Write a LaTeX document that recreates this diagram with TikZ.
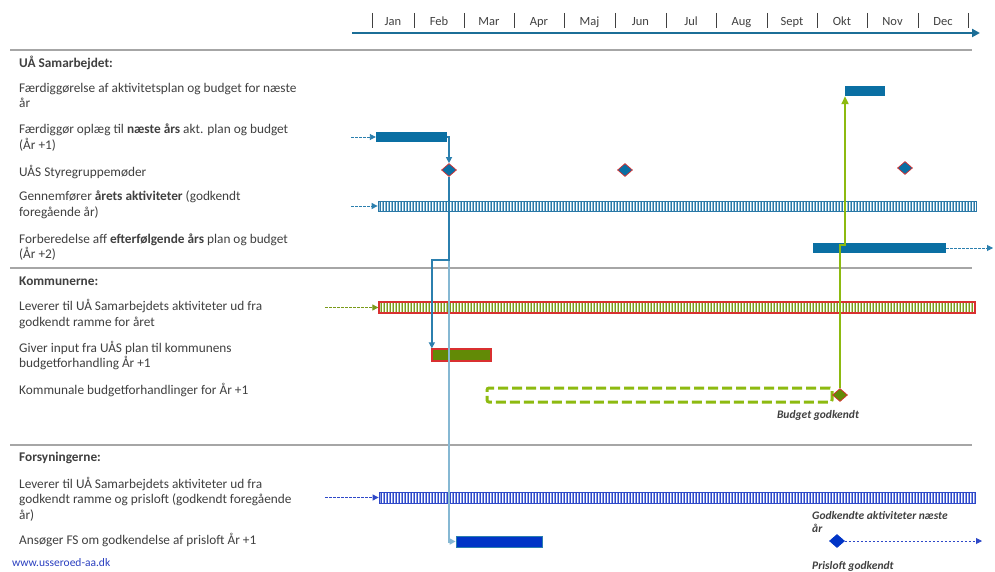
\documentclass[tikz,border=0pt]{standalone}
\usepackage{fontspec}
\setmainfont{Carlito}
\usetikzlibrary{arrows.meta,shapes.geometric}
\definecolor{txt}{HTML}{404040}
\definecolor{uab}{HTML}{0A6FA3}
\definecolor{axisc}{HTML}{1B6E97}
\definecolor{grayl}{HTML}{A6A6A6}
\definecolor{lgreen}{HTML}{8DBA10}
\definecolor{olive}{HTML}{628A06}
\definecolor{roy}{HTML}{0034C6}
\definecolor{conn}{HTML}{2B7FAE}
\definecolor{conl}{HTML}{86B8D3}
\definecolor{hbl}{HTML}{8CBCD8}
\definecolor{hbd}{HTML}{2A78A6}
\definecolor{hgl}{HTML}{BDD291}
\definecolor{hgd}{HTML}{7A9A1A}
\definecolor{hrl}{HTML}{8C9EE8}
\definecolor{hrd}{HTML}{2E48C8}
\definecolor{redb}{HTML}{D93030}
\definecolor{linkc}{HTML}{2A3FC0}
\tikzset{
  lbl/.style={anchor=base west, align=left, inner sep=0pt, text=txt, font=\fontsize{13.3}{15.5}\selectfont},
  head/.style={lbl, font=\fontsize{13.3}{15.5}\selectfont\bfseries},
  note/.style={anchor=base west, align=left, inner sep=0pt, text=txt, font=\fontsize{11.5}{12.7}\selectfont\bfseries\itshape},
  month/.style={text=txt, font=\fontsize{12.5}{14}\selectfont, inner sep=0pt, anchor=base},
  tickl/.style={draw=txt, line width=0.8pt},
  sep/.style={draw=grayl, line width=2pt},
  bar/.style={rectangle, inner sep=0pt, minimum height=10pt},
  hatch/.style n args={3}{fill=#1, path picture={
     \foreach \k in {0,3,...,600}{
       \draw[#2, line width=1pt] ([xshift={(\k+0.6)*1pt}]path picture bounding box.north west) -- ([xshift={(\k+0.6)*1pt}]path picture bounding box.south west);
       \draw[#3, line width=0.4pt] ([xshift={(\k+2)*1pt}]path picture bounding box.north west) -- ([xshift={(\k+2)*1pt}]path picture bounding box.south west);
     }}},
  dia/.style={diamond, inner sep=0pt, minimum width=15pt, minimum height=13pt, draw=redb, line width=0.7pt},
  tip/.style={-{Triangle[length=6pt,width=6pt]}},
  darr/.style={dash pattern=on 2.5pt off 1.5pt, line width=0.9pt, tip},
  kbox/.style={rectangle, inner sep=0pt, draw=lgreen, line width=3pt, dash pattern=on 10pt off 4pt, rounded corners=2pt},
}
\begin{document}
\begin{tikzpicture}[x=1pt,y=-1pt]
\fill[white] (0,0) rectangle (995,572);
\useasboundingbox (0,0) rectangle (995,572);

% timeline header
\foreach \x in {372,414,464,514,564,615,666,716,767,817,867,918,968}
  \draw[tickl] (\x,13) -- (\x,28);
\node[month] (m1) at (393,26) {Jan};
\node[month] (m2) at (439,26) {Feb};
\node[month] (m3) at (489,26) {Mar};
\node[month] (m4) at (539,26) {Apr};
\node[month] (m5) at (589.5,26) {Maj};
\node[month] (m6) at (640.5,26) {Jun};
\node[month] (m7) at (691,26) {Jul};
\node[month] (m8) at (741.5,26) {Aug};
\node[month] (m9) at (792,26) {Sept};
\node[month] (m10) at (842,26) {Okt};
\node[month] (m11) at (892.5,26) {Nov};
\node[month] (m12) at (943,26) {Dec};
\coordinate (ax1) at (352,33);
\coordinate (ax2) at (980,33);
\draw[axisc, line width=2.6pt, -{Triangle[length=8pt,width=8pt]}] (ax1) -- (ax2);

% separators
\draw[sep] (10,50) -- (972,50);
\draw[sep] (10,268) -- (972,268);
\draw[sep] (10,445) -- (972,445);

% labels (base anchor = baseline of the last line)
\node[head] (h1) at (19,67.5) {UÅ Samarbejdet:};
\node[lbl] (t1) at (19,108) {Færdiggørelse af aktivitetsplan og budget for næste\\år};
\node[lbl] (t2) at (19,149.5) {Færdiggør oplæg til \textbf{næste års} akt. plan og budget\\(År +1)};
\node[lbl] (t3) at (19,176.5) {UÅS Styregruppemøder};
\node[lbl] (t4) at (19,216) {Gennemfører \textbf{årets aktiviteter} (godkendt\\foregående år)};
\node[lbl] (t5) at (19,258.5) {Forberedelse aff \textbf{efterfølgende års} plan og budget\\(År +2)};
\node[head] (h2) at (19,285) {Kommunerne:};
\node[lbl] (t6) at (19,326) {Leverer til UÅ Samarbejdets aktiviteter ud fra\\godkendt ramme for året};
\node[lbl] (t7) at (19,367.5) {Giver input fra UÅS plan til kommunens\\budgetforhandling År +1};
\node[lbl] (t8) at (19,394.5) {Kommunale budgetforhandlinger for År +1};
\node[head] (h3) at (19,461.5) {Forsyningerne:};
\node[lbl] (t9) at (19,519) {Leverer til UÅ Samarbejdets aktiviteter ud fra\\godkendt ramme og prisloft (godkendt foregående\\år)};
\node[lbl] (t10) at (19,544.5) {Ansøger FS om godkendelse af prisloft År +1};
\node[anchor=base west, inner sep=0pt, text=linkc, font=\fontsize{11.5}{13}\selectfont] (www) at (12,566.5) {www.usseroed-aa.dk};

% bars
\node[bar, fill=uab, minimum width=40pt] (fa) at (865,91) {};
\node[bar, fill=uab, minimum width=71pt] (fop) at (411.5,137) {};
\node[bar, hatch={hbl}{white}{hbd}, draw=hbd, line width=0.8pt, minimum width=598pt] (gen) at (677,206) {};
\node[bar, fill=uab, minimum width=133pt] (forb) at (879.5,248) {};
\node[bar, hatch={hgl}{white}{hgd}, draw=redb, line width=1.3pt, minimum width=596pt, minimum height=11pt] (kl) at (677,307.5) {};
\node[bar, fill=olive, draw=redb, line width=1.3pt, minimum width=59pt, minimum height=12pt] (gi) at (461.5,355) {};
\node[kbox, minimum width=345pt, minimum height=14pt] (kb) at (659.5,395) {};
\node[bar, hatch={hrl}{white}{hrd}, draw=hrd, line width=0.8pt, minimum width=596pt, minimum height=11pt] (fl) at (677,497.5) {};
\node[bar, fill=roy, draw=conn, line width=0.8pt, minimum width=86pt, minimum height=11pt] (ans) at (499,541.5) {};

% diamonds
\node[dia, fill=uab] (d1) at (449,170) {};
\node[dia, fill=uab] (d1b) at (625,170) {};
\node[dia, fill=uab] (d1c) at (905,168) {};
\node[dia, fill=olive] (d2) at (840,395) {};
\node[dia, fill=roy, draw=roy] (d3) at (837,541) {};

% notes
\node[note, anchor=base] (n1) at (818,418) {Budget godkendt};
\node[note] (n2) at (812,532) {Godkendte aktiviteter næste\\år};
\node[note] (n3) at (812,569) {Prisloft godkendt};

% entry / exit dashed arrows
\coordinate (e1) at (351,137);
\coordinate (e2) at (351,206);
\coordinate (e3) at (993,248);
\coordinate (e4) at (325,307.5);
\coordinate (e5) at (325,497.5);
\coordinate (e6) at (982,541);
\draw[darr, conn] (e1) -- (fop.west);
\draw[darr, conn] (e2) -- (gen.west);
\draw[darr, conn] (forb.east) -- (e3);
\draw[darr, hgd] (e4) -- (kl.west);
\draw[darr, hrd] (e5) -- (fl.west);
\draw[darr, hrd] (d3.east) -- (e6);

% connectors
\draw[conl, line width=2pt, tip] (d1.south) |- (ans.west);
\draw[conn, line width=1.3pt, tip] (fop.east) -| (d1.north);
\coordinate (j1) at (449,260);
\draw[conn, line width=1.3pt, tip] (d1.south) -- (j1) -| ([xshift=0.5pt]gi.north west);
\coordinate (g2) at (845,245);
\draw[lgreen, line width=2pt, -{Triangle[length=8pt,width=7pt]}] (d2.north) |- (g2) -- (g2 |- fa.south);
\end{tikzpicture}
\end{document}
